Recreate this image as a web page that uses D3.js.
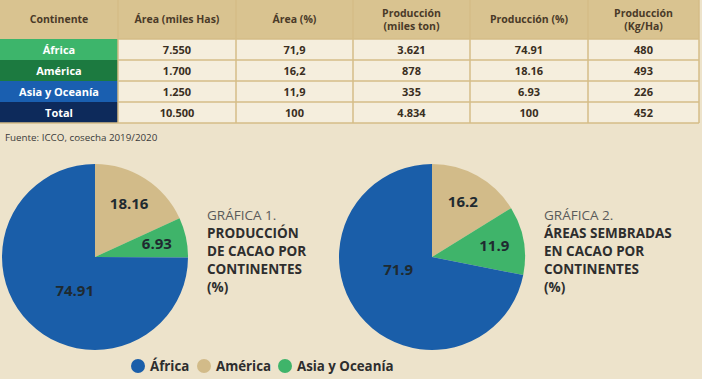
<!DOCTYPE html>
<html><head><meta charset="utf-8">
<script src="https://cdn.jsdelivr.net/npm/d3@7"></script>
<style>
html,body{margin:0;padding:0;background:#ede3cb;}
svg{display:block;font-family:"Open Sans",sans-serif;}
</style></head>
<body>
<svg id="c" width="702" height="379"></svg>
<script>
const continents = ["África", "América", "Asia y Oceanía"];
const areaMilesHas = ["7.550", "1.700", "1.250"];
const areaPctLabels = ["71,9", "16,2", "11,9"];
const prodMilesTon = ["3.621", "878", "335"];
const prodPctLabels = ["74.91", "18.16", "6.93"];
const prodKgHa = ["480", "493", "226"];
const totalRow = ["Total", "10.500", "100", "4.834", "100", "452"];
const headers = [["Continente"], ["Área (miles Has)"], ["Área (%)"], ["Producción", "(miles ton)"], ["Producción (%)"], ["Producción", "(Kg/Ha)"]];

const prodPct = [74.91, 18.16, 6.93];
const areaPct = [71.9, 16.2, 11.9];
const pieOrder = ["América", "Asia y Oceanía", "África"];

const colors = {"África": "#1a5ea9", "América": "#d2bb89", "Asia y Oceanía": "#3fb46a"};
const rowColors = ["#3db56b", "#1c7a40", "#1a5fb0", "#0d2a5b"];

const svg = d3.select("#c");

// ---------- Table ----------
const colEdges = [0, 118, 236, 353, 470, 588, 699];
const rowEdges = [0, 39, 60, 81, 102, 123];
const tbl = svg.append("g");
tbl.append("rect").attr("x", 0).attr("y", 0).attr("width", colEdges[6]).attr("height", rowEdges[1]).attr("fill", "#d9c390");
tbl.append("rect").attr("x", colEdges[1]).attr("y", rowEdges[1]).attr("width", colEdges[6] - colEdges[1]).attr("height", rowEdges[5] - rowEdges[1]).attr("fill", "#f5eedd");
headers.forEach((h, i) => {
  const cx = (colEdges[i] + colEdges[i + 1]) / 2;
  const t = tbl.append("text").attr("x", cx).attr("text-anchor", "middle")
    .attr("font-size", 10.5).attr("font-weight", 700).attr("fill", "#4a3a28");
  h.forEach((line, j) => {
    t.append("tspan").attr("x", cx).attr("y", 23 + (j - (h.length - 1) / 2) * 13).text(line);
  });
});
const rows = continents.map((c, i) => [c, areaMilesHas[i], areaPctLabels[i], prodMilesTon[i], prodPctLabels[i], prodKgHa[i]]);
rows.push(totalRow);
rows.forEach((r, ri) => {
  const y0 = rowEdges[ri + 1], y1 = rowEdges[ri + 2];
  tbl.append("rect").attr("x", 0).attr("y", y0).attr("width", colEdges[1]).attr("height", y1 - y0).attr("fill", rowColors[ri]);
  r.forEach((v, ci) => {
    tbl.append("text").attr("x", (colEdges[ci] + colEdges[ci + 1]) / 2).attr("y", (y0 + y1) / 2 + 4)
      .attr("text-anchor", "middle").attr("font-size", 11).attr("font-weight", 700)
      .attr("fill", ci === 0 ? "#ffffff" : "#3a2e22").text(v);
  });
});
for (let i = 1; i <= 6; i++) {
  tbl.append("line").attr("x1", colEdges[i]).attr("x2", colEdges[i]).attr("y1", 0).attr("y2", rowEdges[5]).attr("stroke", "#d4bd87").attr("stroke-width", 1.5);
}
for (let j = 1; j < 6; j++) {
  tbl.append("line").attr("x1", j === 5 ? 0 : colEdges[1]).attr("x2", colEdges[6]).attr("y1", rowEdges[j]).attr("y2", rowEdges[j]).attr("stroke", "#d4bd87").attr("stroke-width", 1.5);
}

svg.append("text").attr("x", 5).attr("y", 141).attr("font-size", 9.8).attr("fill", "#3a3a3a").text("Fuente: ICCO, cosecha 2019/2020");

// ---------- Pies ----------
const r = 93;
const pie = d3.pie().sort(null).value(d => d.v);
const arc = d3.arc().innerRadius(0).outerRadius(r);

function drawPie(cx, cy, values, labels, title, bigShift, bigRad) {
  const data = pieOrder.map(n => {
    const i = continents.indexOf(n);
    return {name: n, v: values[i], label: labels[i]};
  });
  const g = svg.append("g").attr("transform", `translate(${cx},${cy})`);
  const arcs = pie(data);
  g.selectAll("path").data(arcs).join("path").attr("d", arc).attr("fill", d => colors[d.data.name]);
  g.selectAll("text").data(arcs).join("text")
    .attr("transform", d => {
      const big = d.endAngle - d.startAngle > Math.PI;
      const lr = big ? r * bigRad : r * 0.68;
      const a = (d.startAngle + d.endAngle) / 2 + (big ? bigShift : 0);
      return `translate(${lr * Math.sin(a)},${-lr * Math.cos(a)})`;
    })
    .attr("text-anchor", "middle").attr("dy", "0.35em")
    .attr("font-size", 15).attr("font-weight", 700).attr("fill", "#1f2a30")
    .text(d => d.data.label);
  const t = svg.append("text").attr("font-size", 13.5).attr("fill", "#333");
  title.forEach((line, j) => {
    t.append("tspan").attr("x", cx + 112).attr("y", cy - 37 + j * 18)
      .attr("font-weight", j === 0 ? 400 : 700).attr("fill", j === 0 ? "#5a5a5a" : "#2e2e2e").text(line);
  });
}
drawPie(95, 257, prodPct, prodPctLabels, ["GRÁFICA 1.", "PRODUCCIÓN", "DE CACAO POR", "CONTINENTES", "(%)"], -0.25, 0.425);
drawPie(432, 257, areaPct, areaPct.map(v => v.toFixed(1)), ["GRÁFICA 2.", "ÁREAS SEMBRADAS", "EN CACAO POR", "CONTINENTES", "(%)"], 0.32, 0.39);

// ---------- Legend ----------
const legendX = d3.scaleOrdinal().domain(continents).range([138, 204, 285]);
const lg = svg.append("g");
continents.forEach(c => {
  lg.append("circle").attr("cx", legendX(c)).attr("cy", 366).attr("r", 7).attr("fill", colors[c]);
  lg.append("text").attr("x", legendX(c) + 12).attr("y", 371).attr("font-size", 13.3).attr("font-weight", 700).attr("fill", "#2e2e2e").text(c);
});
</script>
</body></html>
